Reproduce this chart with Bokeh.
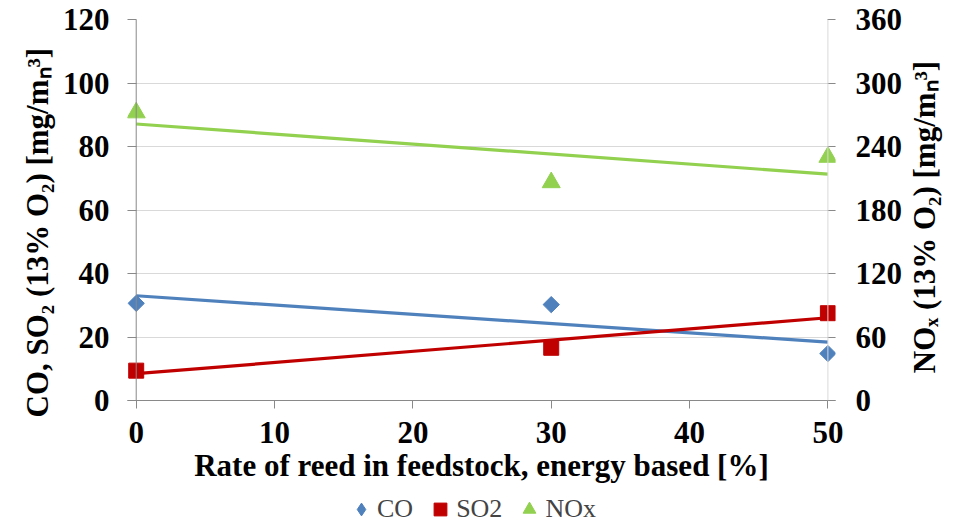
import numpy as np
from bokeh.plotting import figure
from bokeh.layouts import row, column
from bokeh.models import Range1d, LinearAxis, FixedTicker, Span, Legend, LegendItem, Title
from bokeh.core.properties import value
from bokeh.embed import file_html
from bokeh.resources import INLINE

# ---- data ----
reed_rate = [0, 30, 50]            # x: rate of reed in feedstock [%]
co_values = [30.6, 30.2, 14.8]     # left axis
so2_values = [9.4, 16.6, 27.5]     # left axis
nox_values = [272, 206, 230]       # right axis
x_ticks = [0, 10, 20, 30, 40, 50]
left_ticks = [0, 20, 40, 60, 80, 100, 120]
right_ticks = [0, 60, 120, 180, 240, 300, 360]
series_names = ["CO", "SO2", "NOx"]
x_title = "Rate of reed in feedstock, energy based [%]"
left_title = "CO, SO\u2082 (13% O\u2082) [mg/m\u2099\u00b3]"
right_title = "NO\u2093 (13% O\u2082) [mg/m\u2099\u00b3]"

BLUE = "#4F81BD"
RED = "#C00000"
GREEN = "#92D050"
AXIS_GRAY = "#898989"
GRID_GRAY = "#D9D9D9"
FONT = "Liberation Serif"
FS = "31px"

MAIN_H = 493
LEG_H = 525 - MAIN_H
RIGHT_W = 54
MAIN_W = 959 - RIGHT_W
F_LEFT, F_RIGHT, F_TOP, F_BOTTOM = 127, 835, 19, 400

common = dict(output_backend="svg", toolbar_location=None, outline_line_color=None)

p = figure(width=MAIN_W, height=MAIN_H,
           x_range=Range1d(-0.63, 50.55), y_range=Range1d(0, 120),
           min_border_left=F_LEFT, min_border_right=MAIN_W - F_RIGHT,
           min_border_top=F_TOP, min_border_bottom=MAIN_H - F_BOTTOM, **common)
p.extra_y_ranges = {"nox": Range1d(0, 360)}

# trendlines (least-squares fits of the data)
x_end = np.array([min(reed_rate), max(reed_rate)], dtype=float)
def trend(ys):
    k, b = np.polyfit(reed_rate, ys, 1)
    return k * x_end + b

p.line(x_end, trend(co_values), line_color=BLUE, line_width=3.2)
p.line(x_end, trend(so2_values), line_color=RED, line_width=3.2)
p.line(x_end, trend(nox_values), line_color=GREEN, line_width=3.2, y_range_name="nox")

p.scatter(reed_rate, co_values, marker="square", size=11.5, angle=np.pi / 4,
          fill_color=BLUE, line_color=BLUE)
p.scatter(reed_rate, so2_values, marker="square", size=15, fill_color=RED, line_color=RED)
p.scatter(reed_rate, nox_values, marker="triangle", size=18, fill_color=GREEN,
          line_color=GREEN, y_range_name="nox")

# axis lines at x = 0 and x = 50
p.add_layout(Span(location=0, dimension="height", line_color=AXIS_GRAY, line_width=1))
p.add_layout(Span(location=50, dimension="height", line_color=GRID_GRAY, line_width=1))

p.xgrid.visible = False
p.ygrid.grid_line_color = GRID_GRAY
p.ygrid.ticker = FixedTicker(ticks=left_ticks)

def style(ax):
    ax.major_label_text_font = FONT
    ax.major_label_text_font_style = "bold"
    ax.major_label_text_font_size = FS
    ax.major_label_text_color = "black"
    ax.axis_label_text_font = FONT
    ax.axis_label_text_font_style = "bold"
    ax.axis_label_text_font_size = FS
    ax.axis_label_text_color = "black"
    ax.minor_tick_line_color = None
    ax.major_tick_line_color = AXIS_GRAY

xa = p.xaxis[0]
style(xa)
xa.ticker = FixedTicker(ticks=x_ticks)
xa.axis_line_color = AXIS_GRAY
xa.major_tick_out = 8
xa.major_tick_in = 0
xa.major_label_standoff = 13
xa.axis_label = x_title
xa.axis_label_standoff = 2

ya = p.yaxis[0]
style(ya)
ya.ticker = FixedTicker(ticks=left_ticks)
ya.axis_line_color = None
ya.major_tick_out = 0
ya.major_tick_in = 9
ya.major_label_standoff = 18

ra = LinearAxis(y_range_name="nox")
style(ra)
ra.ticker = FixedTicker(ticks=right_ticks)
ra.axis_line_color = None
ra.major_tick_out = 0
ra.major_tick_in = 8
ra.major_label_standoff = 20
p.add_layout(ra, "right")

# left axis title (bottom-to-top), starting a little below the plot bottom
p.add_layout(Title(text=left_title, align="left", offset=-17, standoff=10,
                   text_font=FONT, text_font_style="bold", text_font_size=FS,
                   text_color="black"), "left")

# right axis title, also read bottom-to-top
rt = figure(width=RIGHT_W, height=MAIN_H, x_range=Range1d(0, RIGHT_W),
            y_range=Range1d(0, F_BOTTOM - F_TOP), min_border_left=0, min_border_right=0,
            min_border_top=F_TOP, min_border_bottom=MAIN_H - F_BOTTOM,
            x_axis_location=None, y_axis_location=None, **common)
rt.xgrid.visible = False
rt.ygrid.visible = False
rt.text(x=[923.5 - MAIN_W], y=[F_BOTTOM - 216.5], text=[right_title], angle=np.pi / 2,
        text_align="center", text_baseline="middle", text_font=value(FONT),
        text_font_style="bold", text_font_size=FS, text_color="black")

# legend strip
lg = figure(width=959, height=LEG_H, x_range=Range1d(0, 1), y_range=Range1d(-2, -1),
            min_border_left=F_LEFT, min_border_right=959 - F_RIGHT,
            min_border_top=0, min_border_bottom=0,
            x_axis_location=None, y_axis_location=None, **common)
lg.xgrid.visible = False
lg.ygrid.visible = False
lg_co = lg.scatter(reed_rate, co_values, marker="diamond", fill_color=BLUE, line_color=BLUE)
lg_so2 = lg.scatter(reed_rate, so2_values, marker="square", fill_color=RED, line_color=RED)
lg_nox = lg.scatter(reed_rate, nox_values, marker="triangle", fill_color=GREEN, line_color=GREEN)
legend = Legend(items=[LegendItem(label=series_names[0], renderers=[lg_co]),
                       LegendItem(label=series_names[1], renderers=[lg_so2]),
                       LegendItem(label=series_names[2], renderers=[lg_nox])],
                orientation="horizontal", location=(218, -3),
                label_text_font=FONT, label_text_font_size="26px",
                glyph_width=32, glyph_height=38, label_standoff=0, spacing=11,
                padding=0, margin=0, border_line_alpha=0, background_fill_alpha=0)
lg.add_layout(legend, "center")

layout = column(row(p, rt), lg)
open("out.html", "w").write(file_html(layout, INLINE))
